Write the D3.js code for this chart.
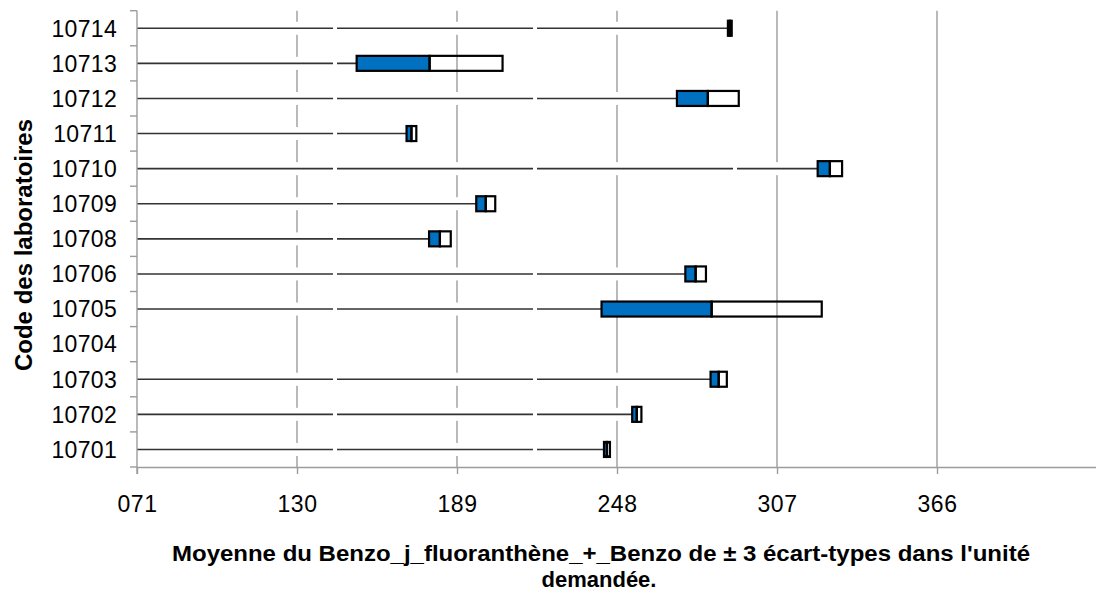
<!DOCTYPE html>
<html>
<head>
<meta charset="utf-8">
<script src="https://cdn.jsdelivr.net/npm/d3@7"></script>
<style>
  html, body { margin: 0; padding: 0; background: #fff; }
  svg { display: block; }
  text { font-family: "Liberation Sans", Arial, sans-serif; fill: #000; }
</style>
</head>
<body>
<svg id="chart" width="1096" height="596"></svg>
<script>
// Laboratory codes, top to bottom
const labs = ["10714", "10713", "10712", "10711", "10710", "10709", "10708",
              "10706", "10705", "10704", "10703", "10702", "10701"];
// Mean of Benzo(j)fluoranthene + Benzo per laboratory (null = no result)
const means = [289.6, 178.9, 281.5, 172.2, 326.5, 199.6, 182.7,
               277.0, 282.9, null, 285.5, 255.3, 244.3];
// Three standard deviations per laboratory
const threeSd = [0.7, 26.9, 11.4, 1.8, 4.5, 3.5, 4.0,
                 3.8, 40.6, null, 3.0, 1.7, 1.1];
// Axis tick values
const xTicks = [71, 130, 189, 248, 307, 366];

const xTitle1 = "Moyenne du Benzo_j_fluoranthène_+_Benzo de ± 3 écart-types dans l'unité";
const xTitle2 = "demandée.";
const yTitle = "Code des laboratoires";

const rows = labs.map((lab, i) => ({
  lab, mean: means[i], sd3: threeSd[i]
}));

const svg = d3.select("#chart");
const plotL = 137, plotR = 1097, plotT = 10.7, plotB = 467;

const x = d3.scaleLinear().domain([71, 425]).range([plotL, plotR]);
const y = d3.scaleBand().domain(labs).range([plotT, plotB]).padding(0);

const gridColor = "#9c9c9c";
const blue = "#0070c0";

// Vertical gridlines
svg.append("g").selectAll("line")
  .data(xTicks.filter(t => t !== 71))
  .join("line")
  .attr("x1", d => x(d)).attr("x2", d => x(d))
  .attr("y1", plotT).attr("y2", plotB)
  .attr("stroke", gridColor).attr("stroke-width", 1.4);

const withData = rows.filter(r => r.mean != null);

// Leader from the axis to the lower limit, with a white band under it
const lead = svg.append("g");
lead.selectAll("rect.halo")
  .data(withData)
  .join("rect")
  .attr("class", "halo")
  .attr("x", x(71) + 1)
  .attr("width", d => x(d.mean - d.sd3) - x(71) - 1)
  .attr("y", d => y(d.lab) + y.bandwidth() / 2 - 6.5)
  .attr("height", 13)
  .attr("fill", "#fff");
lead.selectAll("line")
  .data(withData)
  .join("line")
  .attr("x1", x(71)).attr("x2", d => x(d.mean - d.sd3))
  .attr("y1", d => y(d.lab) + y.bandwidth() / 2)
  .attr("y2", d => y(d.lab) + y.bandwidth() / 2)
  .attr("stroke", "#333").attr("stroke-width", 1.6)
  .attr("stroke-dasharray", "196 4");

// Boxes: mean − 3 sd to mean (blue), mean to mean + 3 sd (open)
const boxH = 15;
const boxes = svg.append("g");
boxes.selectAll("rect.low")
  .data(withData)
  .join("rect")
  .attr("class", "low")
  .attr("x", d => x(d.mean - d.sd3))
  .attr("width", d => x(d.mean) - x(d.mean - d.sd3))
  .attr("y", d => y(d.lab) + y.bandwidth() / 2 - boxH / 2)
  .attr("height", boxH)
  .attr("fill", blue).attr("stroke", "#000").attr("stroke-width", 2.2);
boxes.selectAll("rect.high")
  .data(withData)
  .join("rect")
  .attr("class", "high")
  .attr("x", d => x(d.mean))
  .attr("width", d => x(d.mean + d.sd3) - x(d.mean))
  .attr("y", d => y(d.lab) + y.bandwidth() / 2 - boxH / 2)
  .attr("height", boxH)
  .attr("fill", "none").attr("stroke", "#000").attr("stroke-width", 2.2);

// X axis
const xAxis = d3.axisBottom(x)
  .tickValues(xTicks)
  .tickFormat(d3.format("03d"))
  .tickSizeInner(7).tickSizeOuter(0).tickPadding(22);
const gx = svg.append("g").attr("transform", `translate(0,${plotB})`).call(xAxis);
gx.select(".domain").attr("stroke", gridColor).attr("stroke-width", 1.4);
gx.selectAll(".tick line").attr("stroke", gridColor).attr("stroke-width", 1.4);
gx.selectAll(".tick text")
  .attr("font-size", 23)
  .attr("letter-spacing", "0.6px")
  .attr("font-family", "Liberation Sans, Arial, sans-serif")
  .attr("fill", "#000");

// Y axis: line plus ticks at the category boundaries
const gy = svg.append("g");
gy.append("line")
  .attr("x1", plotL).attr("x2", plotL)
  .attr("y1", plotT).attr("y2", plotB + 7)
  .attr("stroke", gridColor).attr("stroke-width", 1.4);
const bounds = labs.map(l => y(l)).concat([plotB]);
gy.selectAll("line.tk")
  .data(bounds)
  .join("line")
  .attr("class", "tk")
  .attr("x1", plotL - 7).attr("x2", plotL)
  .attr("y1", d => d).attr("y2", d => d)
  .attr("stroke", gridColor).attr("stroke-width", 1.4);
gy.selectAll("text")
  .data(labs)
  .join("text")
  .attr("x", 117)
  .attr("y", d => y(d) + y.bandwidth() / 2)
  .attr("dy", "0.36em")
  .attr("text-anchor", "end")
  .attr("font-size", 23)
  .attr("letter-spacing", "0.3px")
  .text(d => d);

// Axis titles
svg.append("text")
  .attr("x", 601).attr("y", 561)
  .attr("text-anchor", "middle")
  .attr("font-size", 22).attr("font-weight", "bold")
  .attr("textLength", 858).attr("lengthAdjust", "spacingAndGlyphs")
  .text(xTitle1);
svg.append("text")
  .attr("x", 599).attr("y", 587)
  .attr("text-anchor", "middle")
  .attr("font-size", 22).attr("font-weight", "bold")
  .text(xTitle2);
svg.append("text")
  .attr("transform", "translate(32,245) rotate(-90)")
  .attr("text-anchor", "middle")
  .attr("font-size", 24).attr("font-weight", "bold")
  .text(yTitle);
</script>
</body>
</html>
